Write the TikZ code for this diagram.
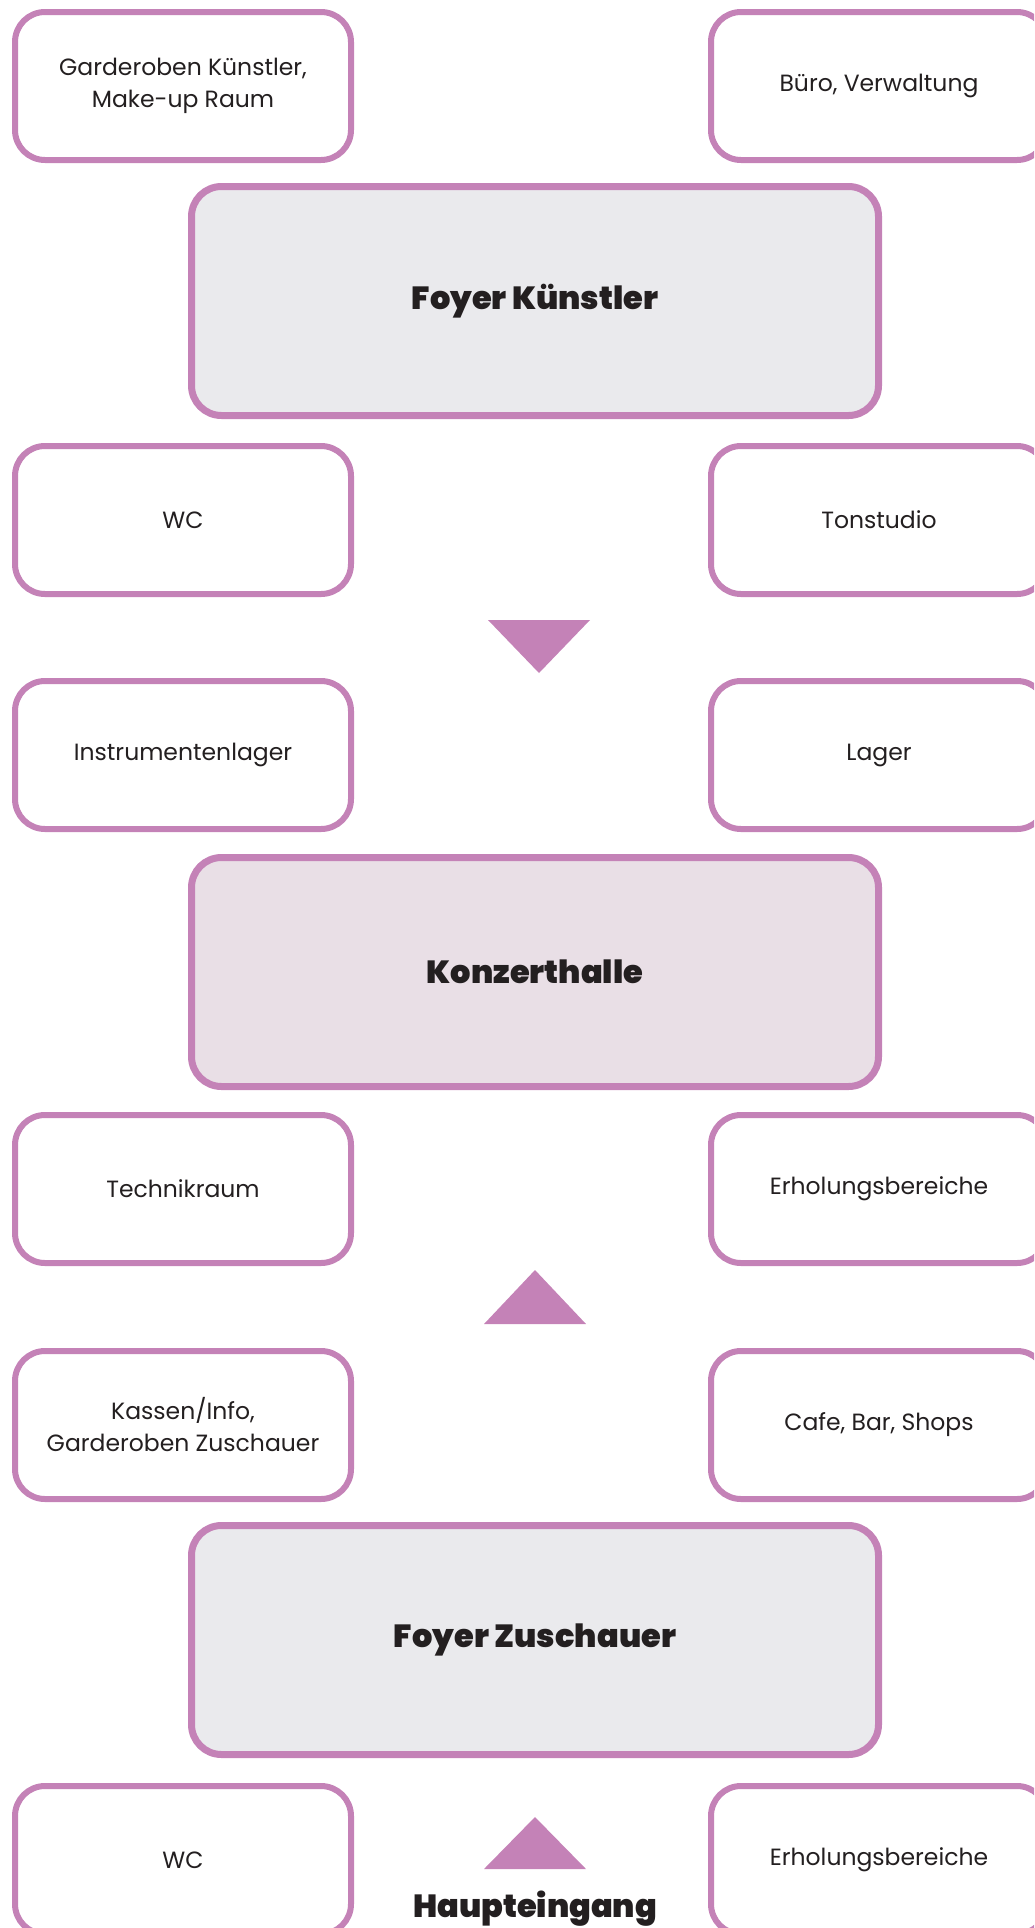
\documentclass[tikz,border=0pt]{standalone}
\usepackage{fontspec}
\setmainfont{Poppins}
\newfontfamily\heavyfont{Poppins Black}
\usepackage{xcolor}
\usetikzlibrary{calc}
\definecolor{lila}{HTML}{C482B7}
\definecolor{foy}{HTML}{EAEAED}
\definecolor{kon}{HTML}{E9DFE6}
\definecolor{ink}{HTML}{231F20}

\begin{document}
\begin{tikzpicture}[x=1pt,y=-1pt,
room/.style={draw=lila, line width=6pt, rounded corners=30pt, fill=white, minimum width=336pt, minimum height=148pt, inner sep=0, align=center, text=ink, font=\fontsize{23.5}{32}\selectfont},
hall/.style={draw=lila, line width=7pt, rounded corners=30pt, fill=foy, minimum width=687pt, minimum height=229pt, inner sep=0, text=ink, font=\fontsize{32}{38}\selectfont\heavyfont},
tri/.style={fill=lila}]
	\useasboundingbox (0,0) rectangle (1034,1928);
	\clip (0,0) rectangle (1034,1928);

	\node[room] at (183,86) (gard) {Garderoben Künstler,\\Make-up Raum};
	\node[room] at (879,86) (buero) {Büro, Verwaltung};
	\node[hall] at (535,301) (fk) {Foyer Künstler};
	\node[room] at (183,520) (wc1) {WC};
	\node[room] at (879,520) (ton) {Tonstudio};
	\node[room] at (183,755) (instr) {Instrumentenlager};
	\node[room] at (879,755) (lager) {Lager};
	\node[hall, fill=kon] at (535,972) (kh) {\raisebox{-6pt}{Konzerthalle}};
	\node[room] at (183,1189) (tech) {Technikraum};
	\node[room] at (879,1189) (erh1) {Erholungsbereiche};
	\node[room] at (183,1425) (kasse) {Kassen/Info,\\Garderoben Zuschauer};
	\node[room] at (879,1425) (cafe) {Cafe, Bar, Shops};
	\node[hall] at (535,1640) (fz) {Foyer Zuschauer};
	\node[room] at (183,1860) (wc2) {WC};
	\node[room] at (879,1860) (erh2) {Erholungsbereiche};

	\fill[tri] (488,620) -- (590,620) -- (539,673) -- cycle;
	\fill[tri] (484,1324) -- (586,1324) -- (535,1270) -- cycle;
	\fill[tri] (484,1869) -- (586,1869) -- (535,1817) -- cycle;
	\node[text=ink, font=\fontsize{32}{38}\selectfont\heavyfont] at (535,1909) (haupt) {Haupteingang};
\end{tikzpicture}
\end{document}
